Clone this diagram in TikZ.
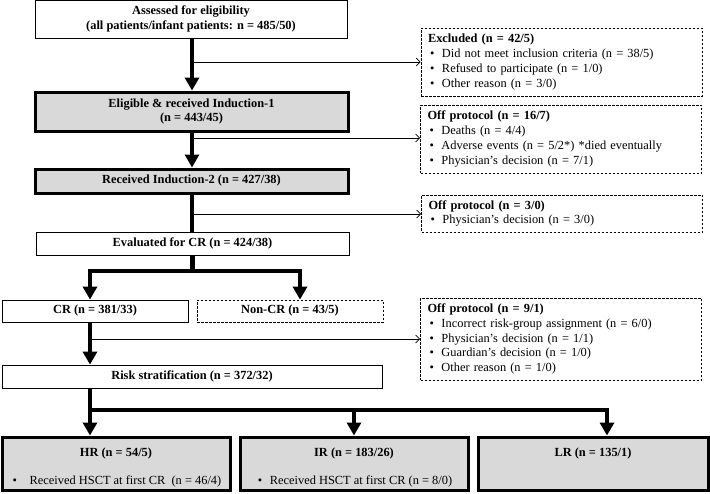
\documentclass[tikz,border=0pt]{standalone}
\usepackage{fontspec}
\setmainfont{Liberation Serif}
\usepackage{tikz}
\usetikzlibrary{arrows.meta}

\definecolor{boxgray}{gray}{0.85}
\newcommand{\flowfont}{\fontsize{12.4}{14.8}\selectfont}
\newcommand{\itm}{\makebox[14pt][l]{\hspace{2pt}\textbullet}}

\begin{document}
\begin{tikzpicture}[x=1pt,y=-1pt,
    every node/.style={font=\flowfont,inner sep=0pt},
    whitebox/.style={draw=black,line width=0.8pt,fill=white,align=center,font=\flowfont\bfseries},
    graybox/.style={draw=black,line width=3pt,fill=boxgray,align=center,font=\flowfont\bfseries},
    riskbox/.style={graybox,minimum width=228pt,minimum height=53pt,text height=19pt,text depth=34pt},
    dashbox/.style={draw=black,line width=0.8pt,dash pattern=on 2.5pt off 1.5pt,
      align=left,text width=267pt,inner xsep=7pt},
    trunk/.style={line width=4.5pt,-{Triangle[length=13pt,width=14pt]}},
    trunkline/.style={line width=4.5pt},
    side/.style={line width=0.7pt,-{Straight Barb[length=4pt,width=8pt]}}]
    \useasboundingbox (0,0) rectangle (710,493);

    \node[whitebox,minimum width=312pt,minimum height=38pt] (assess) at (191,19)
      {Assessed for eligibility\\(all patients/infant patients: n = 485/50)};
    \node[graybox,minimum width=313pt,minimum height=39pt] (elig) at (191.5,111.5)
      {Eligible \& received Induction-1\\(n = 443/45)};
    \node[graybox,minimum width=313pt,minimum height=24pt] (ind2) at (191.5,181)
      {Received Induction-2 (n = 427/38)};
    \node[whitebox,minimum width=313pt,minimum height=23pt] (eval) at (192.5,243.5)
      {Evaluated for CR (n = 424/38)};
    \node[whitebox,minimum width=186pt,minimum height=22pt] (cr) at (95,311)
      {CR (n = 381/33)};
    \node[whitebox,dash pattern=on 2.5pt off 1.5pt,minimum width=186pt,minimum height=22pt] (noncr) at (290,311)
      {Non-CR (n = 43/5)};
    \node[whitebox,minimum width=380pt,minimum height=23pt] (risk) at (192,376.5)
      {Risk stratification (n = 372/32)};
    \node[riskbox] (hr) at (116,463.5)
      {\begin{tabular}[t]{@{}c@{}}HR (n = 54/5)\\[13.2pt]
       \normalfont\makebox[19pt][l]{\hspace{2pt}\textbullet}Received HSCT at first CR\ \ (n = 46/4)\end{tabular}};
    \node[riskbox] (ir) at (354,463.5)
      {\begin{tabular}[t]{@{}c@{}}IR (n = 183/26)\\[13.2pt]
       \normalfont\itm Received HSCT at first CR (n = 8/0)\end{tabular}};
    \node[riskbox,minimum width=230pt] (lr) at (593,463.5)
      {LR (n = 135/1)};

    \node[dashbox,minimum height=68pt] (excl) at (561.5,62)
      {\textbf{Excluded (n = 42/5)}\\
       \itm Did not meet inclusion criteria (n = 38/5)\\
       \itm Refused to participate (n = 1/0)\\
       \itm Other reason (n = 3/0)};
    \node[dashbox,minimum height=68pt] (off1) at (561,139)
      {\textbf{Off protocol (n = 16/7)}\\
       \itm Deaths (n = 4/4)\\
       \itm Adverse events (n = 5/2*) *died eventually\\
       \itm Physician's decision (n = 7/1)};
    \node[dashbox,minimum height=37pt] (off2) at (562,213.5)
      {\textbf{Off protocol (n = 3/0)}\\
       \itm Physician's decision (n = 3/0)};
    \node[dashbox,minimum height=82pt] (off3) at (561,339)
      {\textbf{Off protocol (n = 9/1)}\\
       \itm Incorrect risk-group assignment (n = 6/0)\\
       \itm Physician's decision (n = 1/1)\\
       \itm Guardian's decision (n = 1/0)\\
       \itm Other reason (n = 1/0)};

    \coordinate (s1) at (192,62);
    \coordinate (s2) at (192,138);
    \coordinate (s3) at (192,214);
    \coordinate (s4) at (90,339);
    \coordinate (c1) at (90,271);
    \coordinate (c2) at (300,271);
    \coordinate (d1) at (90,410);
    \coordinate (d2) at (354,410);
    \coordinate (d3) at (607,410);

    \draw[trunk] (assess.south -| s1) -- (s1 |- elig.north);
    \draw[trunk] (elig.south -| s2) -- (s2 |- ind2.north);
    \draw[trunkline] (ind2.south -| s3) -- (s3 |- eval.north);
    \draw[side] (s1) -- (s1 -| excl.west);
    \draw[side] (s2) -- (s2 -| off1.west);
    \draw[side] (s3) -- (s3 -| off2.west);

    \draw[trunkline] (eval.south) -- (eval.south |- c1);
    \draw[trunk] (eval.south |- c1) -- (c1) -- (c1 |- cr.north);
    \draw[trunk] (eval.south |- c1) -- (c2) -- (c2 |- noncr.north);

    \draw[trunk] (s4 |- cr.south) -- (s4 |- risk.north);
    \draw[side] (s4) -- (s4 -| off3.west);

    \draw[trunk] (d1 |- risk.south) -- (d1) -- (d1 |- hr.north);
    \draw[trunk] (d1) -- (d3) -- (d3 |- lr.north);
    \draw[trunk] (d2) -- (d2 |- ir.north);
\end{tikzpicture}
\end{document}
